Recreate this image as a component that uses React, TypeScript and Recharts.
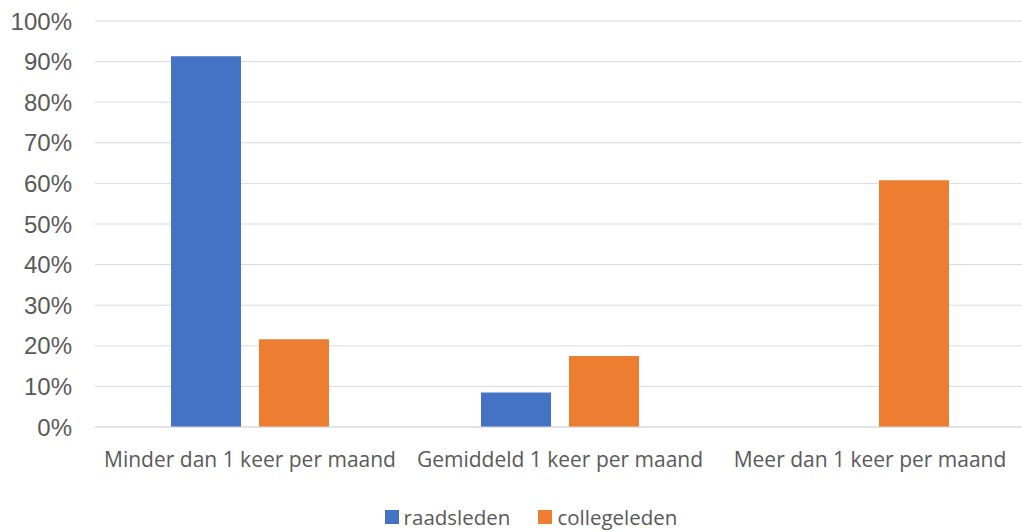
import { BarChart, Bar, XAxis, YAxis, CartesianGrid, Legend } from "recharts";

const categories = ["Minder dan 1 keer per maand", "Gemiddeld 1 keer per maand", "Meer dan 1 keer per maand"];
const raadsleden = [91.3, 8.5, 0];
const collegeleden = [21.6, 17.5, 60.8];
const yTicks = [0, 10, 20, 30, 40, 50, 60, 70, 80, 90, 100];

const SERIES = [
  { key: "raadsleden", color: "#4472c4" },
  { key: "collegeleden", color: "#ed7d31" },
];

const data = categories.map((name, i) => ({ name, raadsleden: raadsleden[i], collegeleden: collegeleden[i] }));

const TEXT = "#595959";

function LegendContent() {
  return (
    <div style={{ display: "flex", justifyContent: "center", gap: 28, paddingLeft: 37, fontFamily: "'Open Sans', sans-serif", fontSize: 20.5, color: TEXT, lineHeight: "30px" }}>
      {SERIES.map((s) => (
        <span key={s.key} style={{ display: "flex", alignItems: "center" }}>
          <span style={{ width: 14, height: 14, background: s.color, marginRight: 5, display: "inline-block" }} />
          {s.key}
        </span>
      ))}
    </div>
  );
}

export default function App() {
  return (
    <div style={{ position: "absolute", left: 0, top: 0, width: 1022, height: 532, overflow: "hidden", background: "#fff" }}>
      <BarChart width={1025} height={532} data={data} margin={{ top: 21, right: 0, bottom: 0, left: 0 }} barGap={18} barSize={70}>
        <CartesianGrid vertical={false} stroke="#d9d9d9" strokeWidth={1} />
        <YAxis
          domain={[0, 100]}
          ticks={yTicks}
          tickFormatter={(v: number) => `${v}%`}
          axisLine={false}
          tickLine={false}
          width={95}
          tickMargin={17}
          tick={{ fontSize: 24, fill: TEXT, fontFamily: "'Liberation Sans', Arial, sans-serif" }}
          interval={0}
        />
        <XAxis
          dataKey="name"
          axisLine={{ stroke: "#d9d9d9" }}
          tickLine={false}
          tickMargin={19}
          height={75}
          interval={0}
          tick={{ fontSize: 21, fill: TEXT, fontFamily: "'Open Sans', sans-serif" }}
        />
        <Legend verticalAlign="bottom" height={30} content={<LegendContent />} />
        {SERIES.map((s) => (
          <Bar key={s.key} dataKey={s.key} fill={s.color} isAnimationActive={false} />
        ))}
      </BarChart>
    </div>
  );
}
